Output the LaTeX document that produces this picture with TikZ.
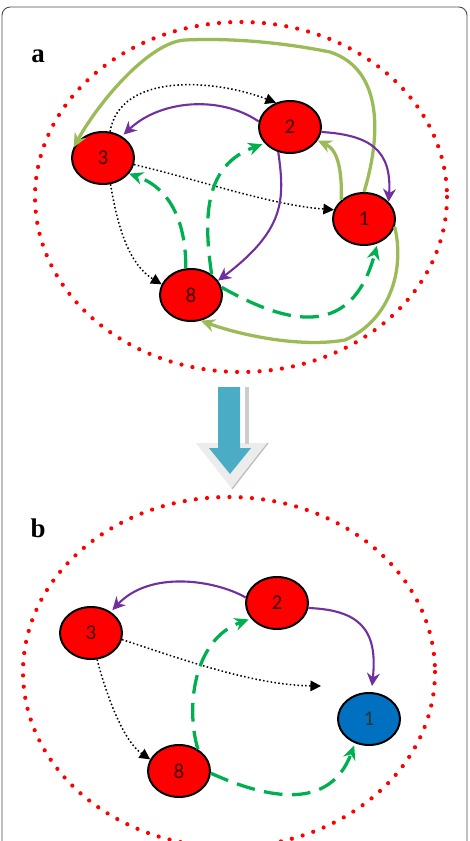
\documentclass[tikz,border=0pt]{standalone}
\usepackage{fontspec}
\usepackage{tikz}
\usetikzlibrary{arrows.meta, shapes.geometric}
\newfontfamily\numfont{Carlito}
\newfontfamily\panelfont{Liberation Serif}
\definecolor{nodered}{RGB}{255,0,0}
\definecolor{nodeblue}{RGB}{0,112,192}
\definecolor{numdark}{RGB}{60,0,0}
\definecolor{olivegreen}{RGB}{155,187,89}
\definecolor{dashgreen}{RGB}{0,176,80}
\definecolor{linkpurple}{RGB}{112,48,160}
\definecolor{arrowblue}{RGB}{75,172,198}
\definecolor{ringred}{RGB}{255,0,0}

\begin{document}
\begin{tikzpicture}[x=0.03cm, y=-0.03cm,
  state/.style={ellipse, draw=black, line width=1.7pt, fill=nodered, minimum width=1.86cm, minimum height=1.56cm, inner sep=0pt, font=\numfont\fontsize{18}{18}\selectfont, text=numdark},
  ring/.style={draw=ringred, line width=3.6pt, line cap=round, dash pattern=on 0pt off 9.6pt},
  dotlink/.style={draw=black, line width=1.3pt, dash pattern=on 1.3pt off 2pt, -{Triangle[length=9pt, width=9pt]}},
  purplelink/.style={draw=linkpurple, line width=1.8pt, -{Stealth[length=11pt, width=11pt]}},
  olivelink/.style={draw=olivegreen, line width=2.8pt, -{Stealth[length=12pt, width=11pt]}},
  dashlink/.style={draw=dashgreen, line width=2.8pt, dash pattern=on 16pt off 8pt, -{Stealth[length=12pt, width=11pt]}},
  panel/.style={font=\panelfont\bfseries\fontsize{23}{23}\selectfont}]
  \useasboundingbox (0,0) rectangle (469,841);
  \draw[gray!60!black, line width=0.8pt, rounded corners=7pt] (2,7) rectangle (467,880);

  % panel a
  \draw[ring] (241,197) ellipse [x radius=206, y radius=175];
  \node[panel] (la) at (38,56) {a};
  \node[state] (n3a) at (103,158) {3};
  \node[state] (n2a) at (290,127) {2};
  \node[state] (n1a) at (364,219) {1};
  \node[state] (n8a) at (191,295) {8};

  \draw[olivelink] (n1a.90) .. controls (380,140) and (385,70) .. (330,52)
    .. controls (280,42) and (230,38) .. (185,40)
    .. controls (150,42) and (100,100) .. (n3a.160);
  \draw[olivelink] (n1a.140) .. controls (342,170) and (338,150) .. (n2a.-26);
  \draw[olivelink] (n1a.-14) .. controls (405,270) and (390,320) .. (345,340)
    .. controls (300,348) and (240,335) .. (n8a.-69);
  \draw[dotlink] (n3a.75) .. controls (120,72) and (215,79) .. (n2a.120);
  \draw[dotlink] (n3a.-12) .. controls (200,180) and (270,205) .. (n1a.163);
  \draw[dotlink] (n3a.-74) .. controls (118,230) and (130,265) .. (n8a.160);
  \draw[purplelink, shorten >=2pt] (n2a.170) .. controls (220,95) and (160,100) .. (n3a.49);
  \draw[purplelink] (n2a.-9) .. controls (370,135) and (392,150) .. (n1a.35);
  \draw[purplelink] (n2a.-115) .. controls (285,200) and (285,230) .. (n8a.28);
  \draw[dashlink] (n8a.101) .. controls (186,230) and (175,190) .. (n3a.-31);
  \draw[dashlink, shorten >=2pt] (n8a.45) .. controls (203,215) and (205,165) .. (n2a.-147);
  \draw[dashlink, shorten >=2pt] (n8a.14) .. controls (280,320) and (350,345) .. (n1a.-61);

  % arrow between the panels
  \fill[gray!15] (196,443) -- (268,443) -- (232,489) -- cycle;
  \draw[gray!55, line width=1pt] (268,443) -- (232,489);
  \fill[gray!40] (245,387) rectangle (249,444);
  \fill[arrowblue] (218,387) -- (240,387) -- (240,448) -- (251,448) -- (230,474) -- (209,448) -- (218,448) -- cycle;

  % panel b
  \draw[ring] (229,672) ellipse [x radius=206, y radius=175];
  \node[panel] (lb) at (38,528) {b};
  \node[state] (n3b) at (91,633) {3};
  \node[state] (n2b) at (277,603) {2};
  \node[state, fill=nodeblue, text=black!80] (n1b) at (369,719) {1};
  \node[state] (n8b) at (179,771) {8};
  \coordinate (endpurple) at (372,686);
  \coordinate (enddot) at (321,686);

  \draw[purplelink, shorten >=2pt] (n2b.170) .. controls (215,580) and (150,570) .. (n3b.47);
  \draw[purplelink] (n2b.-9) .. controls (360,610) and (378,630) .. (endpurple);
  \draw[dotlink] (n3b.-12) .. controls (170,655) and (250,685) .. (enddot);
  \draw[dotlink] (n3b.-77) .. controls (105,690) and (122,740) .. (n8b.158);
  \draw[dashlink, shorten >=2pt] (n8b.49) .. controls (186,710) and (192,640) .. (n2b.-149);
  \draw[dashlink, shorten >=2pt] (n8b.-4) .. controls (270,800) and (330,810) .. (n1b.-120);
\end{tikzpicture}
\end{document}
